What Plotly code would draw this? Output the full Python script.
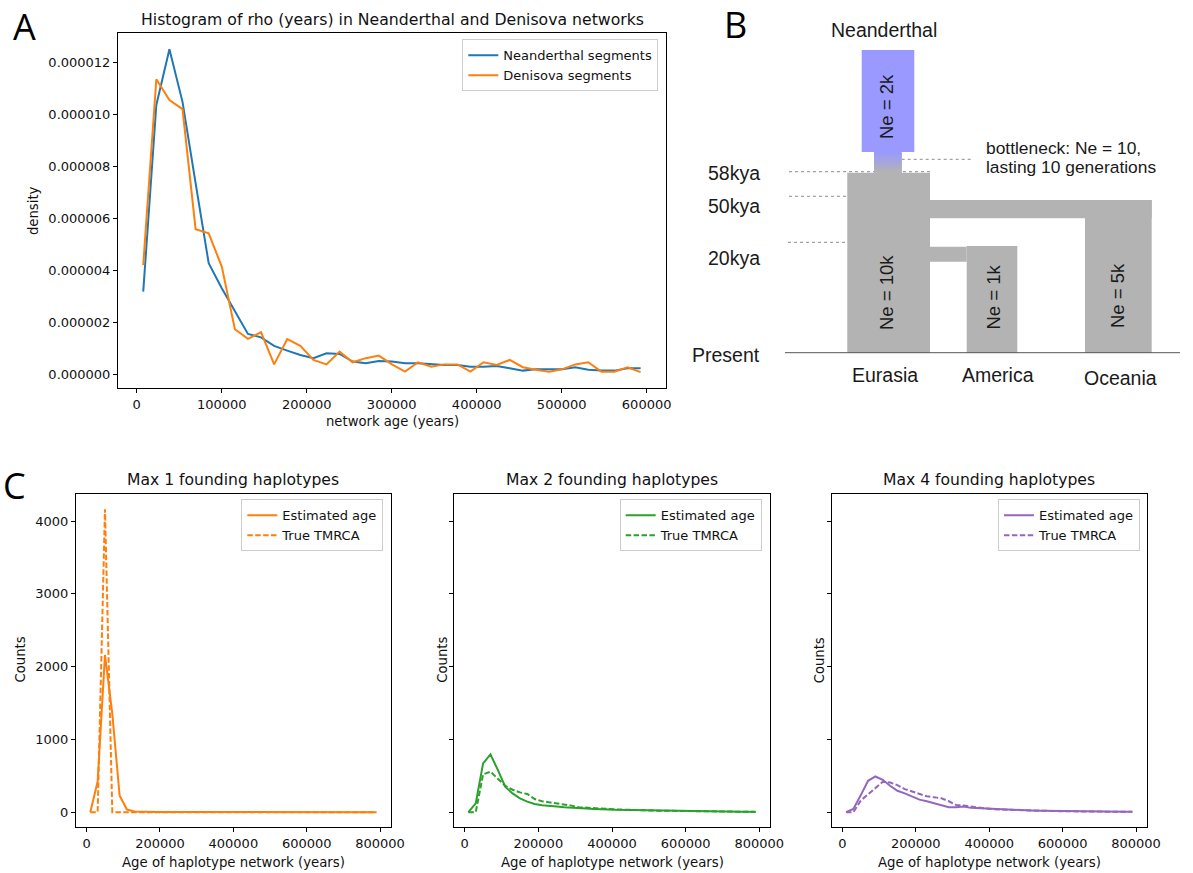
import plotly.graph_objects as go

W, H = 1193, 873
FONT = "DejaVu Sans"
DIAG_FONT = "Liberation Sans"

# ---------------- Panel A data ----------------
rho_age_years = [7700, 23100, 38500, 53900, 69300, 84700, 100100, 115500, 130900, 146300,
                 161700, 177100, 192500, 207900, 223300, 238700, 254100, 269500, 284900, 300300,
                 315700, 331100, 346500, 361900, 377300, 392700, 408100, 423500, 438900, 454300,
                 469700, 485100, 500500, 515900, 531300, 546700, 562100, 577500, 592900]
neanderthal_density_e6 = [3.18, 10.36, 12.50, 10.48, 7.35, 4.27, 3.31, 2.41, 1.55, 1.42,
                          1.09, 0.91, 0.74, 0.62, 0.81, 0.78, 0.49, 0.42, 0.51, 0.49,
                          0.42, 0.42, 0.38, 0.36, 0.36, 0.29, 0.29, 0.32, 0.23, 0.14,
                          0.19, 0.19, 0.19, 0.27, 0.17, 0.14, 0.14, 0.23, 0.23]
denisova_density_e6 = [4.20, 11.35, 10.55, 10.20, 5.58, 5.42, 4.14, 1.73, 1.36, 1.62,
                       0.38, 1.35, 1.09, 0.55, 0.38, 0.87, 0.46, 0.62, 0.72, 0.38,
                       0.10, 0.46, 0.29, 0.38, 0.38, 0.10, 0.46, 0.36, 0.55, 0.27,
                       0.17, 0.10, 0.19, 0.38, 0.46, 0.10, 0.10, 0.27, 0.08]
a_xticks = [0, 100000, 200000, 300000, 400000, 500000, 600000]
a_yticks_e6 = [0, 2, 4, 6, 8, 10, 12]

# ---------------- Panel C data ----------------
age_bins = [10000, 30000, 50000, 70000, 90000, 110000, 130000, 150000, 170000, 190000,
            210000, 230000, 250000, 270000, 290000, 310000, 330000, 350000, 370000, 390000,
            410000, 430000, 450000, 470000, 490000, 510000, 530000, 550000, 570000, 590000,
            610000, 630000, 650000, 670000, 690000, 710000, 730000, 750000, 770000, 790000]
max1_estimated = [0, 420, 2160, 1350, 225, 36, 8, 3, 2, 1,
                  1, 1, 0, 0, 0, 0, 0, 0, 0, 0,
                  0, 0, 0, 0, 0, 0, 0, 0, 0, 0,
                  0, 0, 0, 0, 0, 0, 0, 0, 0, 0]
max1_true = [0, 0, 4160, 0, 0, 0, 0, 0, 0, 0,
             0, 0, 0, 0, 0, 0, 0, 0, 0, 0,
             0, 0, 0, 0, 0, 0, 0, 0, 0, 0,
             0, 0, 0, 0, 0, 0, 0, 0, 0, 0]
max2_estimated = [0, 120, 671, 793, 580, 349, 258, 190, 145, 113,
                  95, 82, 77, 68, 59, 55, 50, 45, 36, 36,
                  32, 30, 27, 25, 22, 20, 18, 16, 14, 12,
                  11, 10, 9, 8, 7, 6, 5, 5, 4, 3]
max2_true = [0, 0, 520, 555, 460, 362, 308, 272, 249, 181,
             150, 136, 127, 104, 90, 68, 61, 50, 45, 41,
             38, 35, 30, 28, 25, 22, 20, 18, 16, 14,
             12, 11, 10, 9, 8, 7, 6, 5, 5, 4]
max4_estimated = [0, 45, 231, 431, 490, 444, 362, 294, 258, 218,
                  172, 150, 122, 90, 68, 68, 77, 59, 54, 45,
                  40, 36, 32, 28, 25, 22, 20, 18, 16, 14,
                  12, 11, 10, 9, 8, 7, 6, 5, 5, 4]
max4_true = [0, 0, 159, 249, 327, 417, 408, 372, 317, 281,
             249, 218, 204, 190, 150, 99, 90, 77, 59, 45,
             40, 36, 32, 28, 25, 22, 20, 18, 16, 14,
             12, 11, 10, 9, 8, 7, 6, 5, 5, 4]
c_xticks = [0, 200000, 400000, 600000, 800000]
c_yticks = [0, 1000, 2000, 3000, 4000]
c_titles = ["Max 1 founding haplotypes", "Max 2 founding haplotypes", "Max 4 founding haplotypes"]
c_colors = ["#ff7f0e", "#2ca02c", "#9467bd"]

# ---------------- Panel B schematic (diagram units = pixels) ----------------
gray_blocks = [  # x0, y0, x1, y1
    (847.3, 172.7, 930.0, 352.7),   # Eurasia
    (930.0, 200.0, 1151.7, 218.3),  # branch to Oceania
    (1085.0, 200.0, 1151.7, 352.7), # Oceania
    (930.0, 246.7, 966.7, 261.7),   # branch to America
    (966.7, 246.0, 1017.3, 352.7),  # America
]
neanderthal_block = (861.7, 50.0, 914.3, 152.0)
bottleneck_block = (874.0, 152, 901.7, 173)
dotted_lines = [(789, 171.7, 930, 171.7), (789, 196.3, 847.3, 196.3),
                (788, 242.3, 847.3, 242.3), (901.7, 159.3, 970.7, 159.3)]
baseline = (785, 352.7, 1180, 352.7)
time_labels = [("58kya", 172.7), ("50kya", 206.0), ("20kya", 258.3), ("Present", 354.5)]
ne_labels = [("Ne = 2k", 886, 107), ("Ne = 10k", 886, 293), ("Ne = 1k", 992.5, 297),
             ("Ne = 5k", 1117, 296)]
pop_labels = [("Eurasia", 885, 375), ("America", 997.7, 375), ("Oceania", 1120.7, 378.3)]
gray_col = (179, 179, 179)
purple_col = (153, 153, 255)


def px(x):
    return x / W


def py(y):
    return 1 - y / H


fig = go.Figure()

# Panel A traces
fig.add_trace(go.Scatter(x=rho_age_years, y=[v * 1e-6 for v in neanderthal_density_e6],
                         mode="lines", name="Neanderthal segments",
                         line=dict(color="#1f77b4", width=2), xaxis="x", yaxis="y", legend="legend"))
fig.add_trace(go.Scatter(x=rho_age_years, y=[v * 1e-6 for v in denisova_density_e6],
                         mode="lines", name="Denisova segments",
                         line=dict(color="#ff7f0e", width=2), xaxis="x", yaxis="y", legend="legend"))

# Panel C traces
c_series = [(max1_estimated, max1_true), (max2_estimated, max2_true), (max4_estimated, max4_true)]
for i, ((est, tru), col) in enumerate(zip(c_series, c_colors)):
    ax = str(i + 2)
    leg = "legend" + ax
    fig.add_trace(go.Scatter(x=age_bins, y=est, mode="lines", name="Estimated age",
                             line=dict(color=col, width=2), xaxis="x" + ax, yaxis="y" + ax, legend=leg))
    fig.add_trace(go.Scatter(x=age_bins, y=tru, mode="lines", name="True TMRCA",
                             line=dict(color=col, width=2, dash="5.5px,2.4px"),
                             xaxis="x" + ax, yaxis="y" + ax, legend=leg))

axis_common = dict(showline=True, linecolor="black", linewidth=1, mirror=True, ticks="outside",
                   ticklen=4, tickcolor="black", tickwidth=1, showgrid=False, zeroline=False,
                   tickfont=dict(family=FONT, size=13, color="#111"), automargin=False,
                   fixedrange=True)

layout = dict(
    width=W, height=H, margin=dict(l=0, r=0, t=0, b=0), template="none",
    paper_bgcolor="white", plot_bgcolor="white", font=dict(family=FONT, color="#111"),
    xaxis=dict(domain=[px(118), px(665.7)], range=[-22000, 622400], tickvals=a_xticks,
               tickformat="d", anchor="y", **axis_common),
    yaxis=dict(domain=[py(388.3), py(32.7)], range=[-0.54e-6, 13.14e-6],
               tickvals=[v * 1e-6 for v in a_yticks_e6], tickformat=".6f", anchor="x", **axis_common),
)

c_frames = [(76, 390.7), (454, 770), (831.7, 1146.7)]
for i, (x0, x1) in enumerate(c_frames):
    ax = str(i + 2)
    layout["xaxis" + ax] = dict(domain=[px(x0), px(x1)], range=[-29000, 829000], tickvals=c_xticks,
                                tickformat="d", anchor="y" + ax, **axis_common)
    layout["yaxis" + ax] = dict(domain=[py(827.3), py(494)], range=[-208, 4371], tickvals=c_yticks,
                                tickformat="d", anchor="x" + ax, showticklabels=(i == 0), **axis_common)

# Panel B hidden axis (1:1 pixel units)
layout["xaxis5"] = dict(domain=[px(692), 1.0], range=[692, 1193], visible=False, anchor="y5",
                        fixedrange=True)
layout["yaxis5"] = dict(domain=[py(436.5), 1.0], range=[436.5, 0], visible=False, anchor="x5",
                        fixedrange=True)

legend_common = dict(xanchor="right", yanchor="top", bordercolor="#cccccc", borderwidth=1,
                     bgcolor="rgba(255,255,255,0.8)", font=dict(family=FONT, size=13, color="#111"),
                     tracegroupgap=0, itemwidth=30)
layout["legend"] = dict(x=px(658.3), y=py(39.3), **legend_common)
legend_right = [383.3, 761.7, 1140]
for i, xr in enumerate(legend_right):
    layout["legend" + str(i + 2)] = dict(x=px(xr), y=py(499.3), **legend_common)

fig.update_layout(**layout)

# ---------------- Shapes for panel B ----------------
shapes = []
for (x0, y0, x1, y1) in dotted_lines:
    shapes.append(dict(type="line", xref="x5", yref="y5", x0=x0, y0=y0, x1=x1, y1=y1,
                       line=dict(color="#8c8c8c", width=1, dash="dot")))
gc = "rgb(%d,%d,%d)" % gray_col
for (x0, y0, x1, y1) in gray_blocks:
    shapes.append(dict(type="rect", xref="x5", yref="y5", x0=x0, y0=y0, x1=x1, y1=y1,
                       fillcolor=gc, line=dict(width=0), layer="above"))
nx0, ny0, nx1, ny1 = neanderthal_block
shapes.append(dict(type="rect", xref="x5", yref="y5", x0=nx0, y0=ny0, x1=nx1, y1=ny1,
                   fillcolor="rgb(%d,%d,%d)" % purple_col, line=dict(width=0), layer="above"))
bx0, by0, bx1, by1 = bottleneck_block
n_strips = int(by1 - by0)
for k in range(n_strips):
    t = k / max(n_strips - 1, 1)
    c = tuple(int(round(purple_col[j] * (1 - t) + gray_col[j] * t)) for j in range(3))
    ya = by0 + k
    shapes.append(dict(type="rect", xref="x5", yref="y5", x0=bx0, y0=ya, x1=bx1, y1=min(ya + 2, by1),
                       fillcolor="rgb(%d,%d,%d)" % c, line=dict(width=0), layer="above"))
lx0, ly0, lx1, ly1 = baseline
shapes.append(dict(type="line", xref="x5", yref="y5", x0=lx0, y0=ly0, x1=lx1, y1=ly1,
                   line=dict(color="#555555", width=1), layer="above"))

# ---------------- Annotations ----------------
ann = []


def text(t, x, y, size, xanchor="center", yanchor="middle", angle=0, family=FONT, color="#111"):
    ann.append(dict(text=t, x=px(x), y=py(y), xref="paper", yref="paper", showarrow=False,
                    xanchor=xanchor, yanchor=yanchor, textangle=angle,
                    font=dict(family=family, size=size, color=color)))


def dtext(t, x, y, size, xanchor="center", angle=0):
    ann.append(dict(text=t, x=x, y=y, xref="x5", yref="y5", showarrow=False,
                    xanchor=xanchor, yanchor="middle", textangle=angle,
                    font=dict(family=DIAG_FONT, size=size, color="#1a1a1a")))


# panel letters
text("A", 24, 26, 36, family="Open Sans", color="black")
text("B", 735, 24, 36, family="Open Sans", color="black")
text("C", 14, 485, 36, family="Open Sans", color="black")

# panel A texts
text("Histogram of rho (years) in Neanderthal and Denisova networks", 392, 19, 15.7)
text("density", 33, 211, 13.2, angle=-90)
text("network age (years)", 392, 421, 13.2)

# panel C texts
for (x0, x1), title in zip(c_frames, c_titles):
    xc = (x0 + x1) / 2
    text(title, xc, 480, 15.6)
    text("Age of haplotype network (years)", xc, 862, 13.3)
count_x = [19.5, 441.7, 819.3]
for cx in count_x:
    text("Counts", cx, 660, 13.2, angle=-90)

# panel B texts
dtext("Neanderthal", 884.3, 30, 19.5)
for lab, y in time_labels:
    dtext(lab, 762, y, 19.5, xanchor="right")
for lab, x, y in ne_labels:
    dtext(lab, x, y, 18.5, angle=-90)
for lab, x, y in pop_labels:
    dtext(lab, x, y, 19.5)
dtext("bottleneck: Ne = 10,", 984, 148.3, 17.4, xanchor="left")
dtext("lasting 10 generations", 984, 166.7, 17.4, xanchor="left")

fig.update_layout(shapes=shapes, annotations=ann)
fig.write_html("out.html")
